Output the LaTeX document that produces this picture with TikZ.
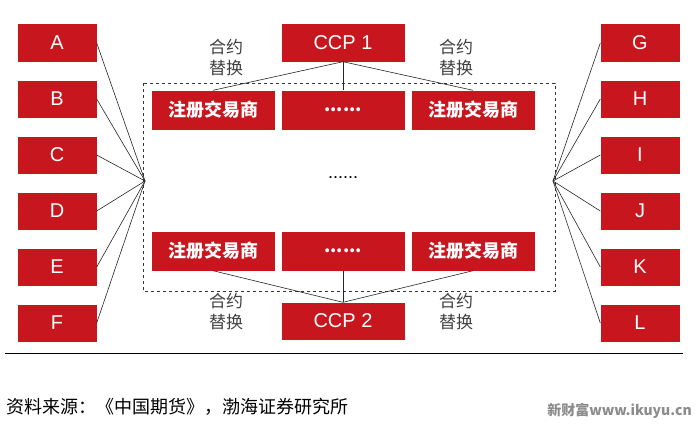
\documentclass[tikz,border=0pt]{standalone}
\usepackage{fontspec}
\setmainfont{Liberation Sans}
\newfontfamily\cjk{Noto Sans CJK SC}
\usetikzlibrary{positioning}
\definecolor{boxred}{RGB}{200,22,30}
\tikzstyle{letter}  = [rectangle, minimum width=79pt, minimum height=37pt, fill=boxred, text=white, font=\fontsize{20}{20}\selectfont, inner sep=0pt]
\tikzstyle{dealer}  = [rectangle, minimum width=123pt, minimum height=39pt, fill=boxred, text=white, font=\cjk\bfseries\fontsize{18}{18}\selectfont, inner sep=0pt]
\tikzstyle{swap}    = [align=center, text=black!75, font=\cjk\fontsize{17}{21}\selectfont]
\tikzstyle{link}    = [semithick, black!85]

\begin{document}
\begin{tikzpicture}[x=1pt,y=-1pt]
\useasboundingbox (0,0) rectangle (700,428);
\fill[white] (0,0) rectangle (700,428);
% clearing firms
\node (ccpa) [letter, minimum width=123pt] at (343,43) {CCP 1};
\node (ccpb) [letter, minimum width=123pt] at (343,321) {CCP 2};
\node (dta) [dealer] at (213,110) {注册交易商};
\node (dtb) [dealer] at (343,110) {\textbf{......}};
\node (dtc) [dealer] at (473,110) {注册交易商};
\node (dba) [dealer] at (213,251) {注册交易商};
\node (dbb) [dealer] at (343,251) {\textbf{......}};
\node (dbc) [dealer] at (473,251) {注册交易商};
\node (mid) [font=\fontsize{18}{18}\selectfont] at (343,178) {......};
\draw [dashed, thick, black!80] (143,83) rectangle (555,291);
\coordinate (hubl) at (145,181);
\coordinate (hubr) at (553,181);
% clients
\foreach \n/\l/\r [count=\i from 0] in {a/A/G, b/B/H, c/C/I, d/D/J, e/E/K, f/F/L}{
  \node (l\n) [letter] at (57,43+56*\i) {\l};
  \node (r\n) [letter] at (640,43+56*\i) {\r};
  \draw [link] (l\n.east) -- (hubl);
  \draw [link] (r\n.west) -- (hubr);
}
\foreach \d in {dta,dtb,dtc} \draw [link] (ccpa.south) -- (\d.north);
\foreach \d in {dba,dbb,dbc} \draw [link] (ccpb.north) -- (\d.south);
\node [swap] at (226,58) {合约\\替换};
\node [swap] at (456,58) {合约\\替换};
\node [swap] at (226,312) {合约\\替换};
\node [swap] at (456,312) {合约\\替换};
\draw [thick] (5,353) -- (683,353);
\node (src) [anchor=west, font=\cjk\fontsize{18}{18}\selectfont, inner sep=0pt] at (6,407) {资料来源：《中国期货》，渤海证券研究所};
\node (wm) [anchor=east, text=black!45, font=\cjk\bfseries\fontsize{14}{14}\selectfont, inner sep=0pt] at (692,411) {新财富www.ikuyu.cn};
\end{tikzpicture}
\end{document}
